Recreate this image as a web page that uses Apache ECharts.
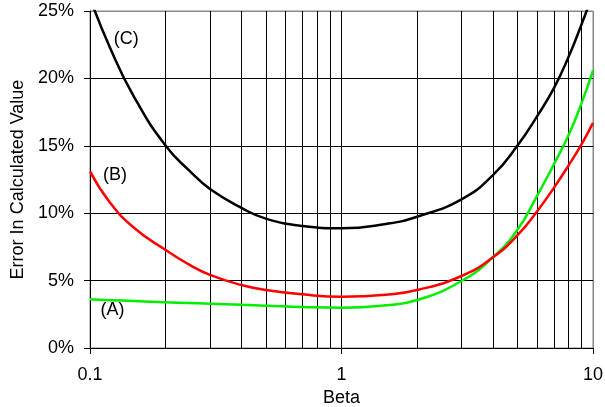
<!DOCTYPE html>
<html>
<head>
<meta charset="utf-8">
<script src="https://cdn.jsdelivr.net/npm/echarts@6/dist/echarts.min.js"></script>
<style>
html,body{margin:0;padding:0;background:#fff;}
#chart{width:605px;height:407px;}
</style>
</head>
<body>
<div id="chart"></div>
<script>
const betas = [0.1, 0.12, 0.15, 0.2, 0.25, 0.3, 0.4, 0.5, 0.7, 1, 1.5, 2, 3, 4, 5, 6, 7, 8, 9, 10];
const curveA = [3.61, 3.55, 3.48, 3.39, 3.33, 3.29, 3.2, 3.14, 3.04, 2.99, 3.17, 3.56, 4.97, 6.73, 8.75, 11.3, 13.65, 15.8, 18.15, 20.6];
const curveB = [13.1, 10.8, 8.9, 7.27, 6.15, 5.42, 4.67, 4.3, 3.98, 3.81, 3.95, 4.3, 5.34, 6.73, 8.35, 10.15, 11.9, 13.55, 15.1, 16.7];
const curveC = [25.95, 22.3, 18.6, 15.0, 13.1, 11.8, 10.4, 9.6, 9.05, 8.88, 9.2, 9.74, 11.03, 12.83, 15.0, 17.2, 19.3, 21.6, 24.0, 26.3];
const minorGrid = [0.2, 0.3, 0.4, 0.5, 0.6, 0.7, 0.8, 0.9, 2, 3, 4, 5, 6, 7, 8, 9];
const yTicks = [0, 5, 10, 15, 20, 25];
const curveLabels = ['(A)', '(B)', '(C)'];
const labelPos = [[0.1229, 2.78], [0.1257, 12.8], [0.1394, 22.95]];

const FONT = 'Liberation Sans, Arial, sans-serif';
const pair = (ys) => betas.map((b, i) => [b, ys[i]]);

function curveSeries(name, ys, color, idx) {
  return {
    name: name, type: 'line', data: pair(ys), smooth: 0.5, symbol: 'none',
    lineStyle: {color: color, width: 2.5}, clip: true, z: 5,
    markPoint: {
      symbol: 'circle', symbolSize: 0, silent: true, animation: false,
      label: {show: true, position: 'inside', formatter: curveLabels[idx], color: '#000', fontSize: 18, fontFamily: FONT},
      data: [{coord: labelPos[idx]}]
    }
  };
}

const chart = echarts.init(document.getElementById('chart'), null, {renderer: 'canvas'});
chart.setOption({
  animation: false,
  backgroundColor: '#fff',
  grid: {left: 90, right: 12, top: 11, bottom: 59, show: true, borderColor: '#888', borderWidth: 1,
    containLabel: false, outerBoundsMode: 'none'},
  xAxis: {
    type: 'log', logBase: 10, min: 0.1, max: 10, interval: 1,
    name: 'Beta', nameLocation: 'middle', nameGap: 31,
    nameTextStyle: {color: '#000', fontSize: 18, fontFamily: FONT},
    axisLine: {show: true, lineStyle: {color: '#000', width: 1}},
    axisTick: {show: true, length: 6, lineStyle: {color: '#000'}},
    axisLabel: {color: '#000', fontSize: 18, fontFamily: FONT, margin: 18,
      formatter: (v) => String(Math.round(v * 1000) / 1000)},
    splitLine: {show: true, lineStyle: {color: ['#000', '#000', '#888'], width: 1}}
  },
  yAxis: {
    type: 'value', min: 0, max: 25, interval: 5,
    name: 'Error In Calculated Value', nameLocation: 'middle', nameGap: 62,
    nameTextStyle: {color: '#000', fontSize: 18, fontFamily: FONT},
    axisLine: {show: true, lineStyle: {color: '#000', width: 1}},
    axisTick: {show: true, length: 6, lineStyle: {color: '#000'}},
    axisLabel: {color: '#000', fontSize: 18, fontFamily: FONT, margin: 16, formatter: '{value}%'},
    splitLine: {show: true, lineStyle: {color: yTicks.map((t, i) => i === yTicks.length - 1 ? '#888' : '#000'), width: 1}}
  },
  series: [
    {
      name: 'grid', type: 'line', data: [], symbol: 'none', z: 1, silent: true,
      markLine: {
        silent: true, animation: false, symbol: ['none', 'none'],
        label: {show: false},
        lineStyle: {color: '#000', type: 'solid', width: 1},
        data: minorGrid.map(v => ({xAxis: v}))
      }
    },
    curveSeries('A', curveA, '#00ee00', 0),
    curveSeries('B', curveB, '#ff0000', 1),
    curveSeries('C', curveC, '#000000', 2)
  ]
});
</script>
</body>
</html>
